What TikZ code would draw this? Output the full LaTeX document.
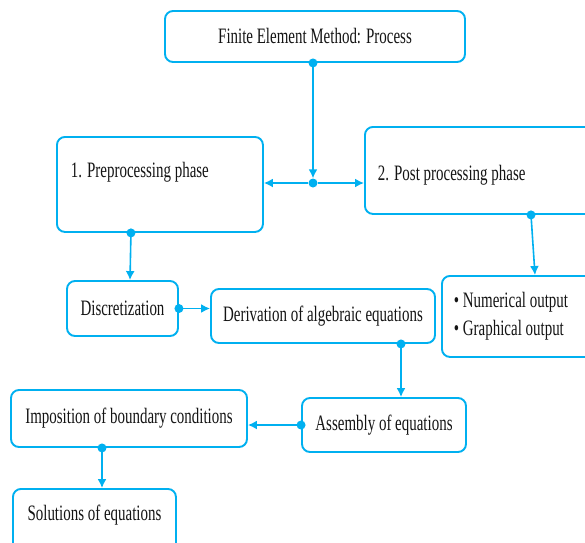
\documentclass[tikz,border=0pt]{standalone}
\usepackage{fontspec}
\newfontfamily\fcfont[FakeStretch=0.68]{Liberation Serif}
\usetikzlibrary{arrows.meta,positioning,calc}
\usepackage{xcolor}
\definecolor{line}{HTML}{00B0F0}
\definecolor{ink}{HTML}{141414}
\tikzset{
  base/.style={font=\fcfont\fontsize{22}{28}\selectfont, text=ink},
  box/.style={base, rounded corners=8pt, draw=line, line width=1.9pt, fill=white, align=center, inner sep=0pt},
  sidebox/.style={box, anchor=north west, align=flush left},
  arrow/.style={-{Latex[length=9pt,width=9pt]}, line width=1.6pt, draw=line},
  dot/.style={circle, fill=line, minimum size=9pt, inner sep=0pt},
}
\begin{document}
\begin{tikzpicture}[x=1pt,y=-1pt]
  \useasboundingbox (0,0) rectangle (585,542);

  \node[box,minimum width=300pt,minimum height=51pt] (title) at (315,36.5) {Finite Element Method: Process};
  \node[sidebox,text width=178pt,inner xsep=14pt,inner ysep=27pt,text height=14pt,text depth=27pt] (pre) at (56,136) {1. Preprocessing phase};
  \node[sidebox,text width=240pt,inner xsep=13pt,minimum height=87pt,text height=23pt,text depth=3pt] (post) at (364,126) {2. Post processing phase};
  \node[dot] (junc) at (313,183) {};

  \draw[arrow] (title.south -| junc) node[dot] {} -- (junc);
  \draw[arrow] (junc) -- (junc -| pre.east);
  \draw[arrow] (junc) -- (junc -| post.west);

  \node[box,minimum width=111pt,minimum height=55pt] (disc) at (122.5,308.5) {Discretization};
  \node[box,minimum width=224pt,minimum height=54pt] (deriv) at (323,316) {Derivation of algebraic equations};
  \node[sidebox,text width=200pt,inner xsep=12pt,minimum height=81pt] (outp) at (441,275) {\textbullet\ Numerical output\\\textbullet\ Graphical output};

  \draw[arrow] ([xshift=-29pt]pre.south) node[dot] {} -- ([xshift=7.5pt]disc.north);
  \draw[arrow] ([xshift=167pt]post.south west) node[dot] {} -- ([xshift=94pt]outp.north west);
  \draw[arrow] (disc.east) node[dot] {} -- (disc.east -| deriv.west);

  \node[box,minimum width=236pt,minimum height=57pt] (impos) at (129,418.5) {Imposition of boundary conditions};
  \node[box,minimum width=164pt,minimum height=54pt] (assem) at (384,425) {Assembly of equations};
  \node[sidebox,minimum width=163pt,inner xsep=11pt,inner ysep=18pt,text height=14pt,text depth=20pt] (solut) at (12,488) {Solutions of equations};

  \draw[arrow] ([xshift=78pt]deriv.south) node[dot] {} -- ([xshift=78pt]deriv.south |- assem.north);
  \draw[arrow] (assem.west) node[dot] {} -- (assem.west -| impos.east);
  \draw[arrow] ([xshift=-27pt]impos.south) node[dot] {} -- ([xshift=-27pt]impos.south |- solut.north);
\end{tikzpicture}
\end{document}
